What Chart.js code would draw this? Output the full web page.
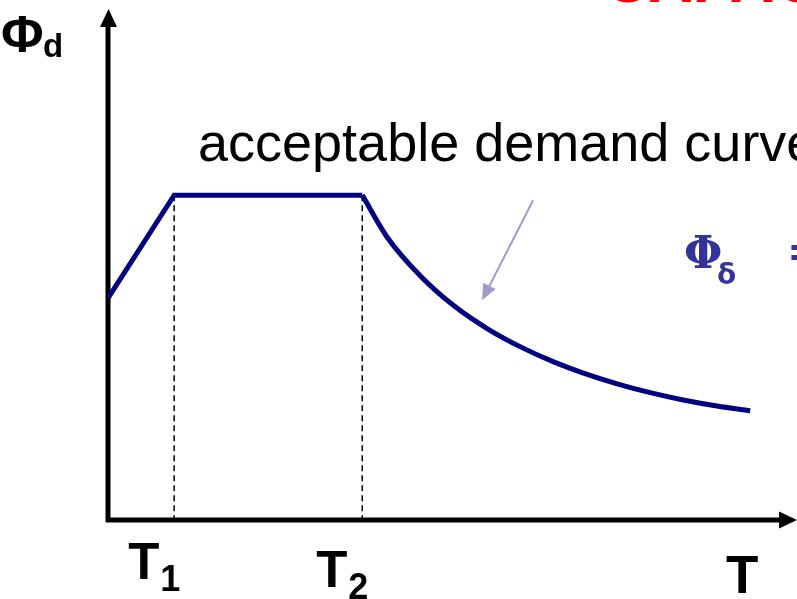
<!DOCTYPE html>
<html>
<head>
<meta charset="utf-8">
<script src="https://cdn.jsdelivr.net/npm/chart.js@4.4.1/dist/chart.umd.min.js"></script>
<style>
  html, body { margin: 0; padding: 0; background: #fff; }
  #wrap { width: 797px; height: 599px; }
</style>
</head>
<body>
<div id="wrap"><canvas id="spectrum" width="797" height="599"></canvas></div>
<script>
// period axis (T) and demand (Phi_d), both in relative units 0..100
const plateauT = [0, 9.6, 36.9];
const plateauPhi = [43.5, 63.7, 63.7];
const decayT = [36.9, 40.6, 45.6, 50.4, 55.2, 60.1, 64.6, 68.9, 73.9, 78.7, 83.5, 88.4, 93.2];
const decayPhi = [63.7, 55.3, 47.5, 41.8, 37.4, 33.8, 31.05, 28.85, 26.7, 24.97, 23.53, 22.35, 21.44];
const cornerT = [9.6, 36.9];
const cornerLabels = ["1", "2"];
const pointerFrom = [61.7, 62.7];
const pointerTo = [54.3, 43.1];

const toXY = (xs, ys) => xs.map((x, i) => ({ x: x, y: ys[i] }));

const navy = '#000080';

const drawArrowHead = (ctx, x, y, angle, len, half) => {
    ctx.save();
    ctx.translate(x, y);
    ctx.rotate(angle);
    ctx.beginPath();
    ctx.moveTo(0, 0);
    ctx.lineTo(-len, -half);
    ctx.lineTo(-len, half);
    ctx.closePath();
    ctx.fill();
    ctx.restore();
};

const axesPlugin = {
    id: 'axes',
    beforeDatasetsDraw(chart) {
        const { ctx, scales: { x, y } } = chart;
        const x0 = x.getPixelForValue(0);
        const y0 = y.getPixelForValue(0);
        ctx.save();
        ctx.strokeStyle = '#000';
        ctx.fillStyle = '#000';
        ctx.lineWidth = 5;
        ctx.beginPath();
        ctx.moveTo(x0, y0 + 2);
        ctx.lineTo(x0, 26);
        ctx.moveTo(x0 - 2, y0);
        ctx.lineTo(780, y0);
        ctx.stroke();
        drawArrowHead(ctx, x0 + 0.5, 9, -Math.PI / 2, 18, 8.5);
        drawArrowHead(ctx, 797, y0, 0, 18, 8.5);
        ctx.restore();
    },
    afterDatasetsDraw(chart) {
        const { ctx, scales: { x, y } } = chart;
        ctx.save();
        ctx.textBaseline = 'alphabetic';
        ctx.textAlign = 'left';

        // pointer arrow
        const fx = x.getPixelForValue(pointerFrom[0]), fy = y.getPixelForValue(pointerFrom[1]);
        const tx = x.getPixelForValue(pointerTo[0]), ty = y.getPixelForValue(pointerTo[1]);
        const ang = Math.atan2(ty - fy, tx - fx);
        ctx.strokeStyle = '#9c9ccf';
        ctx.fillStyle = '#9c9ccf';
        ctx.lineWidth = 2;
        ctx.beginPath();
        ctx.moveTo(fx, fy);
        ctx.lineTo(tx - 12 * Math.cos(ang), ty - 12 * Math.sin(ang));
        ctx.stroke();
        drawArrowHead(ctx, tx, ty, ang, 16, 7);

        // axis labels
        ctx.fillStyle = '#000';
        ctx.font = 'bold 52px "Liberation Sans", Arial, sans-serif';
        ctx.fillText('\u03A6', 1, 52);
        ctx.font = 'bold 33px "Liberation Sans", Arial, sans-serif';
        ctx.fillText('d', 43, 57);

        const baselines = [579, 587];
        cornerT.forEach((t, i) => {
            const px = x.getPixelForValue(t);
            ctx.font = 'bold 51px "Liberation Sans", Arial, sans-serif';
            ctx.fillText('T', px - 46, baselines[i]);
            ctx.font = 'bold 36px "Liberation Sans", Arial, sans-serif';
            ctx.fillText(cornerLabels[i], px - 14, baselines[i] + 12);
        });
        ctx.font = 'bold 53px "Liberation Sans", Arial, sans-serif';
        ctx.fillText('T', 726, 593);

        ctx.font = '54px "Liberation Sans", Arial, sans-serif';
        ctx.fillText('acceptable demand curve', 198, 161);

        ctx.fillStyle = '#333399';
        ctx.font = 'bold 44px "DejaVu Serif", serif';
        ctx.fillText('\u03A6', 684, 268);
        ctx.font = 'bold 28px "DejaVu Sans", sans-serif';
        ctx.fillText('\u03B4', 717, 284);
        ctx.font = 'bold 42px "DejaVu Sans", sans-serif';
        ctx.fillText('=', 787, 266);

        ctx.fillStyle = '#ff0000';
        ctx.font = 'italic bold 62px "Liberation Sans", Arial, sans-serif';
        ctx.fillText('CAPACITY', 606, 2);
        ctx.restore();
    }
};

new Chart(document.getElementById('spectrum'), {
    type: 'line',
    data: {
        datasets: [
            {
                label: 'plateau',
                data: toXY(plateauT, plateauPhi),
                borderColor: navy,
                borderWidth: 5,
                pointRadius: 0,
                tension: 0,
                borderJoinStyle: 'miter',
                borderCapStyle: 'butt'
            },
            {
                label: 'decay',
                data: toXY(decayT, decayPhi),
                borderColor: navy,
                borderWidth: 5,
                pointRadius: 0,
                cubicInterpolationMode: 'monotone',
                borderCapStyle: 'butt'
            },
            ...cornerT.map((t, i) => ({
                label: 'T' + cornerLabels[i],
                data: [{ x: t, y: plateauPhi[1] }, { x: t, y: 0 }],
                borderColor: '#000',
                borderWidth: 1.5,
                borderDash: [6, 4],
                pointRadius: 0
            }))
        ]
    },
    options: {
        responsive: false,
        animation: false,
        layout: { padding: { left: 108, right: 0, top: 10, bottom: 79 } },
        plugins: {
            legend: { display: false },
            tooltip: { enabled: false }
        },
        scales: {
            x: { type: 'linear', min: 0, max: 100, display: false },
            y: { type: 'linear', min: 0, max: 100, display: false }
        }
    },
    plugins: [axesPlugin]
});
</script>
</body>
</html>
